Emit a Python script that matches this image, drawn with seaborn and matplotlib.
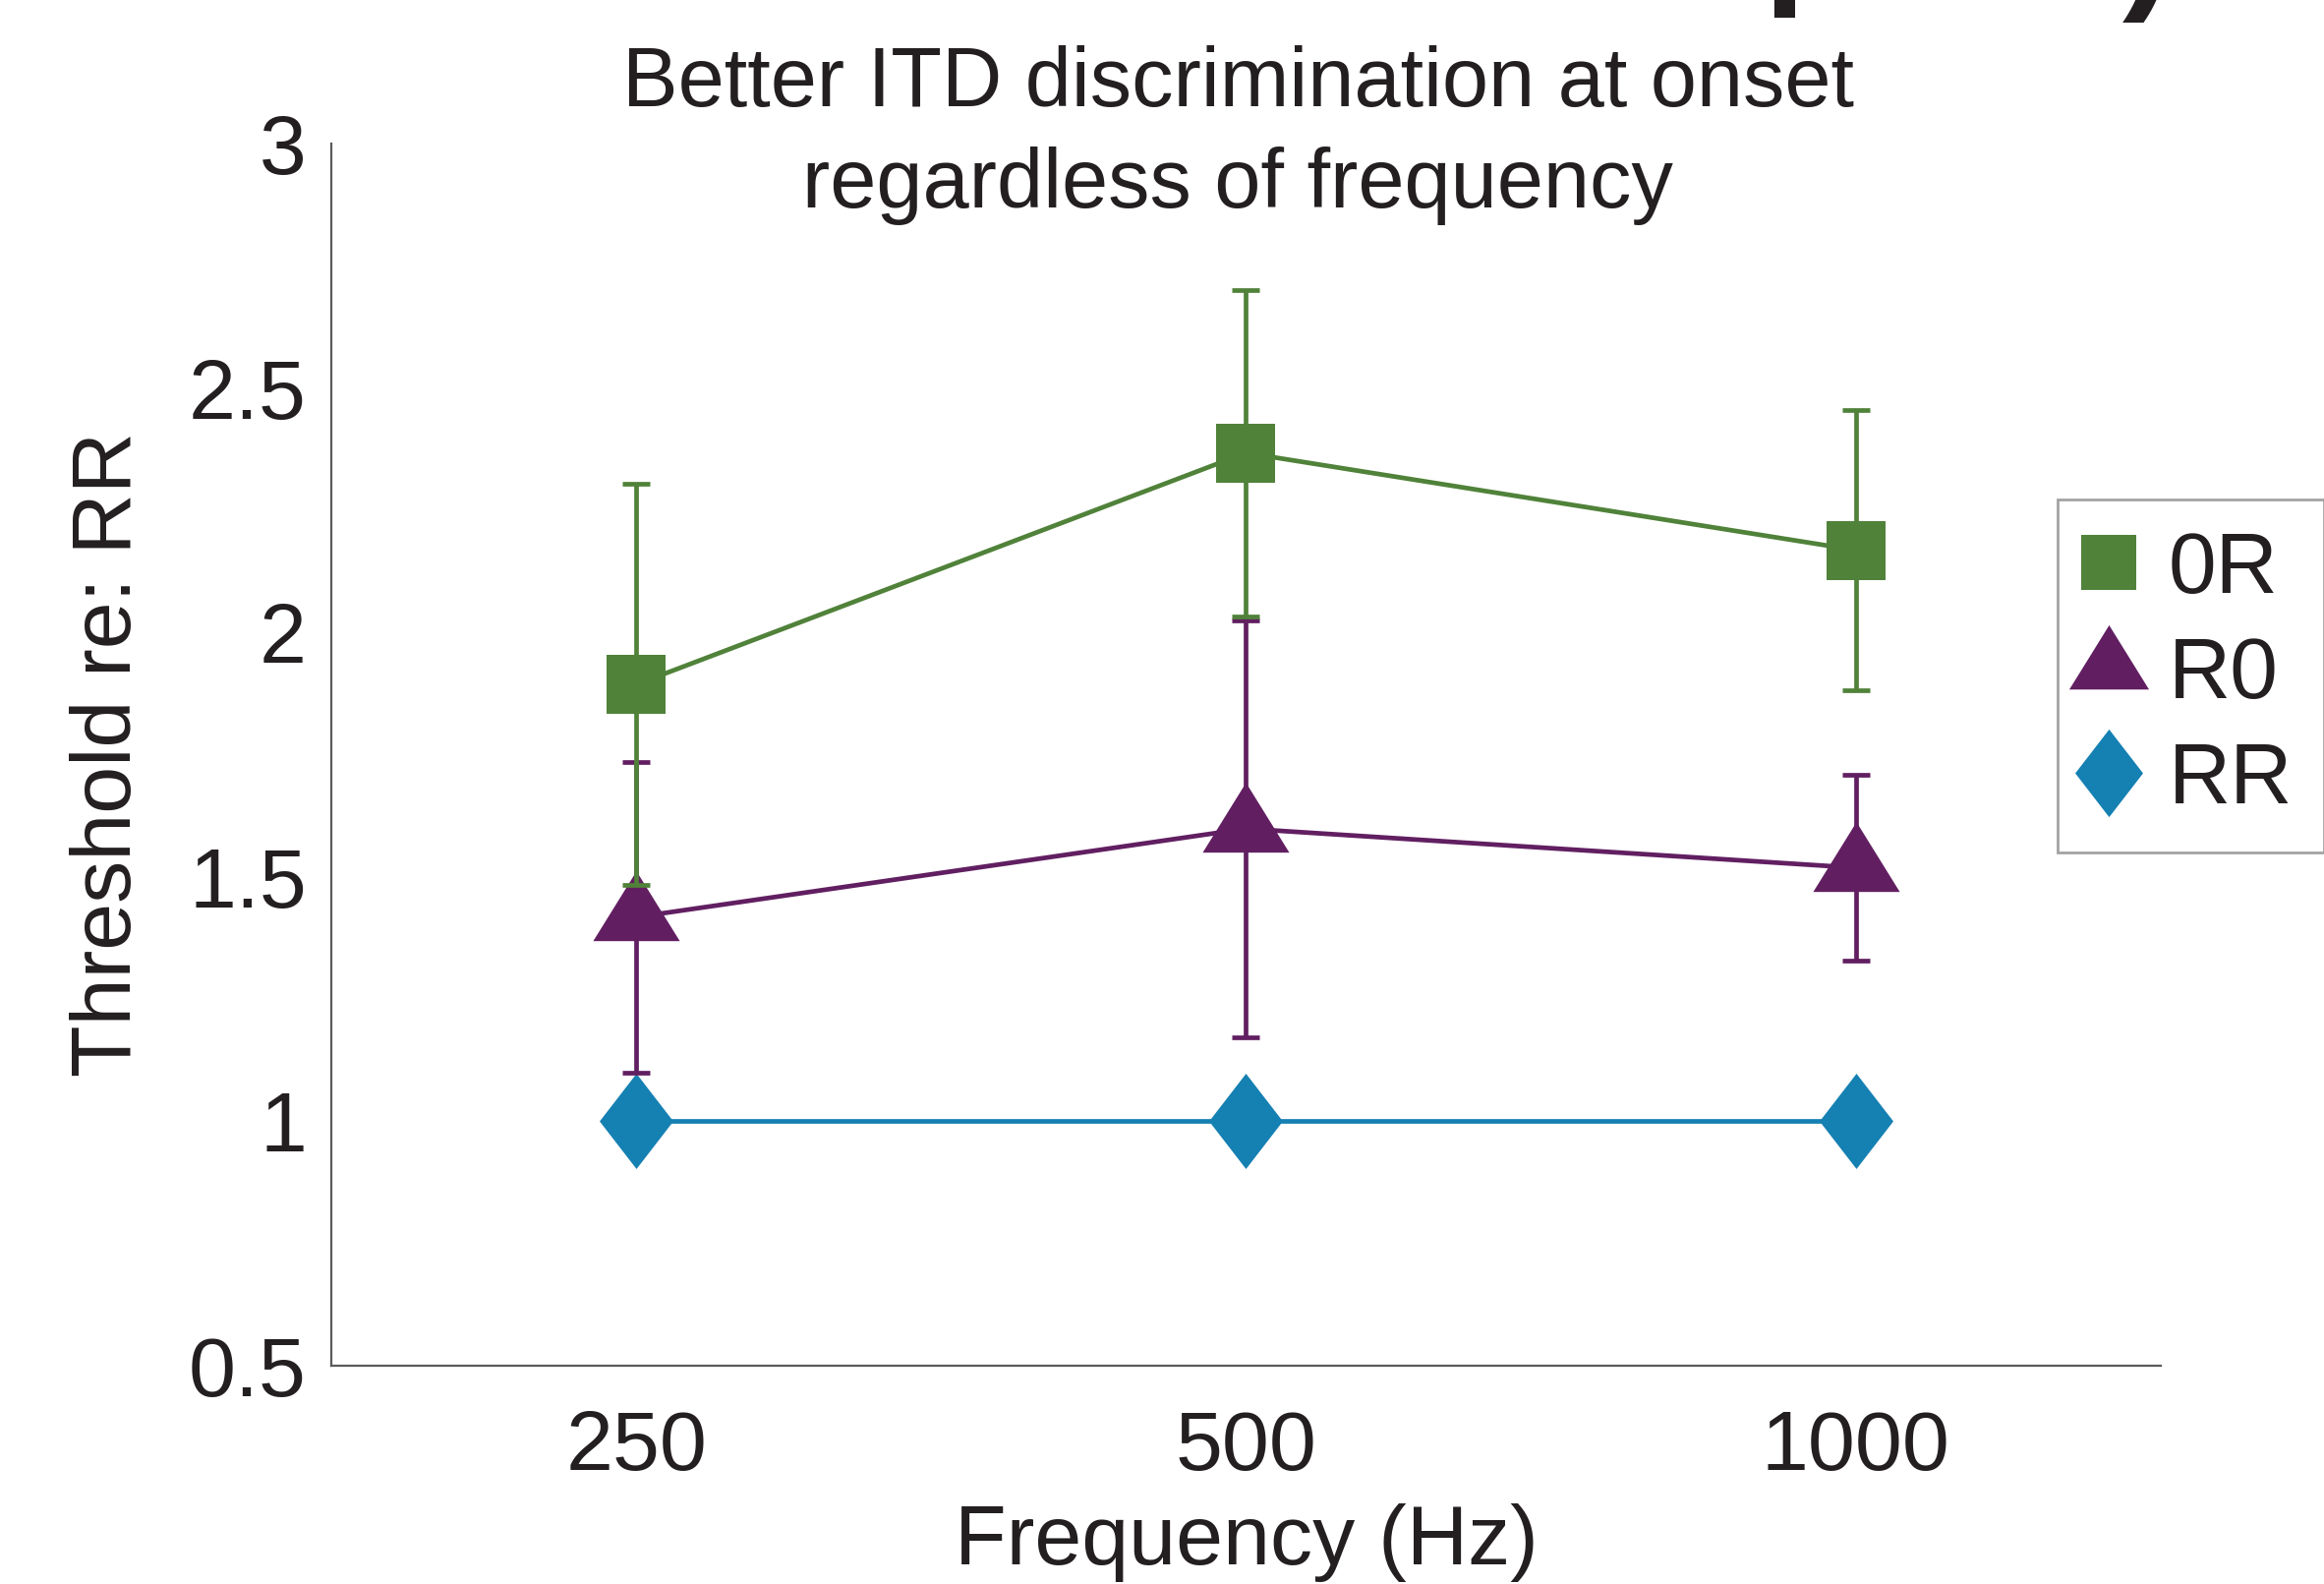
import numpy as np
import pandas as pd
import matplotlib
matplotlib.use("Agg")
import matplotlib.pyplot as plt
from matplotlib.lines import Line2D
import seaborn as sns

sns.set_style("white")
plt.rcParams["font.family"] = ["Liberation Sans", "DejaVu Sans"]

# values
freqs = [250, 500, 1000]
conditions = ["0R", "R0", "RR"]
thr_0R = [1.893, 2.367, 2.168]
err_0R = [0.411, 0.334, 0.287]
thr_R0 = [1.417, 1.598, 1.518]
err_R0 = [0.318, 0.427, 0.191]
thr_RR = [1.0, 1.0, 1.0]
err_RR = [0.0, 0.0, 0.0]

ytick_vals = [0.5, 1, 1.5, 2, 2.5, 3]
ytick_labels = ["0.5", "1", "1.5", "2", "2.5", "3"]

title = "Better ITD discrimination at onset\nregardless of frequency"
xlabel = "Frequency (Hz)"
ylabel = "Threshold re: RR"

ink = "#231f20"
colors = {"0R": "#50823a", "R0": "#611f61", "RR": "#1580b2"}

# marker shapes (matlab-like: triangle centred on centroid, tall diamond)
tri = [(0, 1.0), (-0.93, -0.5), (0.93, -0.5)]
diam = [(0, 1.0), (0.773, 0), (0, -1.0), (-0.773, 0)]
markers = {"0R": "s", "R0": tri, "RR": diam}
msizes = {"0R": 21.6, "R0": 34.1, "RR": 34.9}

df = pd.DataFrame({
    "freq": freqs * 3,
    "thr": thr_0R + thr_R0 + thr_RR,
    "err": err_0R + err_R0 + err_RR,
    "cond": [c for c in conditions for _ in freqs],
})

fig = plt.figure(figsize=(11.82, 8.055), dpi=200)
ax = fig.add_axes([0.14255, 0.13811, 0.78723, 0.77126])
ax.set_xscale("log", base=2)

for cond in ["RR", "R0", "0R"]:
    sub = df[df["cond"] == cond]
    sns.lineplot(data=sub, x="freq", y="thr", ax=ax, color=colors[cond],
                 marker=markers[cond], markersize=msizes[cond],
                 markeredgewidth=0, linewidth=1.7, legend=False, zorder=3)
    if sub["err"].sum() > 0:
        ax.errorbar(sub["freq"], sub["thr"], yerr=sub["err"], fmt="none",
                    ecolor=colors[cond], elinewidth=1.7, capsize=5.2,
                    capthick=1.7, zorder=4)

ax.set_xlim(freqs[0] / np.sqrt(2), freqs[-1] * np.sqrt(2))
ax.set_ylim(ytick_vals[0], ytick_vals[-1])
ax.set_xticks(freqs)
ax.set_xticklabels([str(f) for f in freqs])
ax.xaxis.set_minor_locator(matplotlib.ticker.NullLocator())
ax.set_yticks(ytick_vals)
ax.set_yticklabels(ytick_labels)

for s in ["top", "right"]:
    ax.spines[s].set_visible(False)
for s in ["left", "bottom"]:
    ax.spines[s].set_color("#5b5b5b")
    ax.spines[s].set_linewidth(0.8)

ax.tick_params(axis="both", direction="in", length=6.8, width=0.8,
               color="#5b5b5b", labelsize=31, labelcolor=ink)
ax.tick_params(axis="x", pad=16)
ax.tick_params(axis="y", pad=9)

ax.set_xlabel(xlabel, fontsize=31, color=ink)
ax.set_ylabel(ylabel, fontsize=31, color=ink)
ax.xaxis.set_label_coords(0.5, -0.113)
ax.yaxis.set_label_coords(-0.1, 0.5)

ax.text(0.4955, 1.007, title, transform=ax.transAxes, ha="center",
        va="center", fontsize=30.5, color=ink, linespacing=1.38)

handles = [Line2D([], [], linestyle="none", marker=markers[c],
                  markersize=msizes[c] * 0.92, markeredgewidth=0,
                  color=colors[c]) for c in conditions]
leg = fig.legend(handles, conditions, loc="upper left",
                 bbox_to_anchor=(2093 / 2364, 1 - 508 / 1611),
                 fontsize=31.5, frameon=True, fancybox=False,
                 borderpad=0.36, handlelength=0.46, handletextpad=0.47,
                 labelspacing=0.3, borderaxespad=0)
leg.get_frame().set_edgecolor("#8c8c8c")
leg.get_frame().set_linewidth(1.0)
for t in leg.get_texts():
    t.set_color(ink)

# cut-off text from the panel above
fig.text(1794 / 2364, 1 + 13.5 / 1611, "p", fontsize=56, fontweight="bold",
         ha="left", va="baseline", color=ink)
fig.text(2159 / 2364, 1 + 9 / 1611, ")", fontsize=56, fontweight="bold",
         ha="left", va="baseline", color=ink)

fig.savefig("out.png", dpi=200)
